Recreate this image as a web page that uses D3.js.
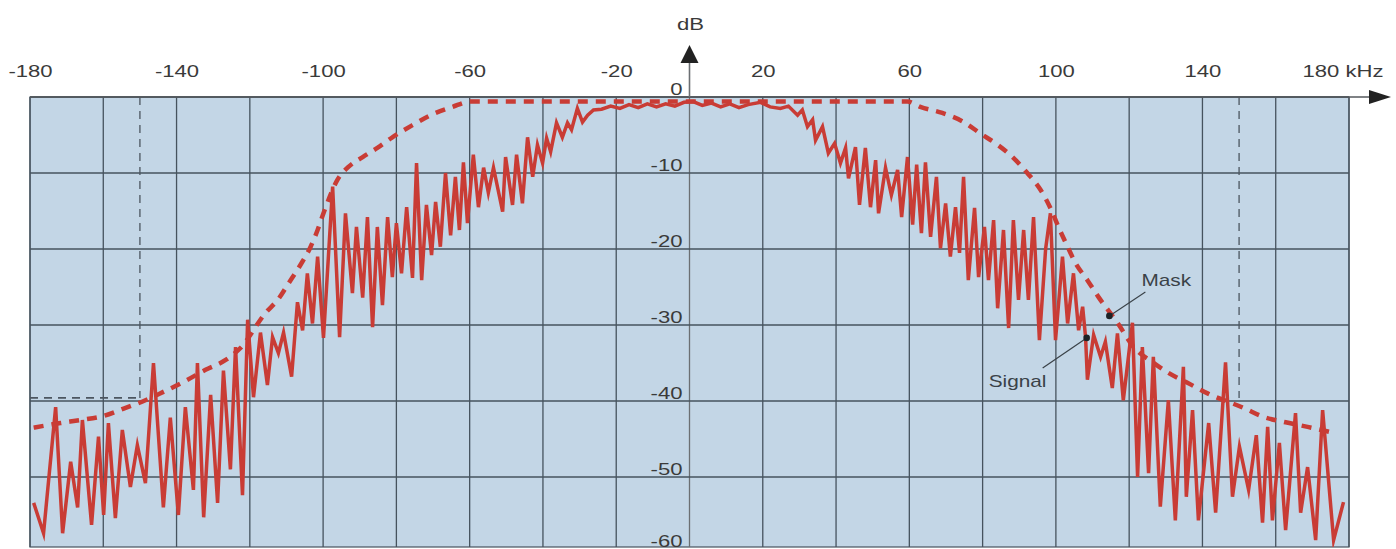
<!DOCTYPE html>
<html>
<head>
<meta charset="utf-8">
<script src="https://cdn.jsdelivr.net/npm/d3@7"></script>
<style>
  body { margin: 0; background: #fff; }
  svg { display: block; font-family: Arial, "Liberation Sans", sans-serif; }
</style>
</head>
<body>
<div id="chart"></div>
<script>
// Axis ticks
const freqLabels = [-180, -140, -100, -60, -20, 20, 60, 100, 140, 180];
const freqGrid = [-180, -160, -140, -120, -100, -80, -60, -40, -20, 0, 20, 40, 60, 80, 100, 120, 140, 160, 180];
const levelTicks = [0, -10, -20, -30, -40, -50, -60];

// Limits of the channel (dashed dark lines)
const limitKHz = [-150, 150];
const limitDb = -39.6;

// Spectrum mask [kHz, dB]
const maskPoints = [
  [-179, -43.5], [-171.7, -42.9], [-166.2, -42.5], [-160.2, -42], [-153.9, -40.9], [-148.5, -39.9],
  [-143.6, -38.8], [-138.1, -37.5], [-132.1, -35.9], [-126.6, -34.6], [-122.5, -33], [-115.7, -28.4],
  [-112.4, -26.7], [-109.4, -24.5], [-106.2, -22.1], [-103.4, -19.7], [-101.5, -17.5], [-99.9, -15.3],
  [-96.1, -10.9], [-93.1, -9.2], [-89.2, -7.9], [-85.2, -6.7], [-81.1, -5.3], [-75.6, -3.7],
  [-70.7, -2.4], [-64.7, -1.3], [-59.8, -0.6], [59.5, -0.6], [63, -1.3], [69, -2.1], [74.5, -3.2],
  [79.4, -4.8], [84.1, -6.3], [88.4, -8], [92.2, -10], [95.8, -12.2], [98.5, -14.6], [100.7, -17.1],
  [103.2, -19.7], [105.3, -21.8], [108.6, -24.1], [111.6, -26.3], [116.8, -29.7], [121.2, -32.9],
  [126.4, -34.9], [130.7, -36.3], [135.9, -37.6], [141.4, -39], [151.2, -40.9], [156.7, -42.1],
  [162.7, -42.8], [168.7, -43.4], [175, -44.1]
];

// Measured signal [kHz, dB]
const signalPoints = [
  [-179.0, -53.4], [-176.3, -57.4], [-173.0, -40.8], [-171.1, -57.4], [-168.9, -48], [-167.0, -54],
  [-165.7, -42.5], [-163.2, -56.3], [-161.3, -44.7], [-159.9, -55], [-158.6, -42.9], [-156.7, -55.4],
  [-154.8, -43.8], [-152.6, -51.3], [-150.7, -45.8], [-148.5, -50.8], [-146.3, -35], [-143.6, -54],
  [-141.7, -42.2], [-139.5, -55], [-137.6, -40.8], [-135.4, -51.7], [-134.3, -35], [-132.6, -55.3],
  [-130.7, -39.2], [-128.8, -53.4], [-127.2, -36], [-125.3, -49], [-123.9, -32.9], [-122.0, -52.4],
  [-120.6, -29.3], [-119.0, -39.5], [-117.1, -31], [-115.2, -37.9], [-113.8, -31.6], [-112.2, -33.7],
  [-110.8, -31], [-108.6, -36.8], [-107.0, -27], [-105.6, -30.7], [-104.3, -23.2], [-102.9, -29.8],
  [-101.5, -21], [-99.9, -31.7], [-97.4, -11.8], [-95.5, -31.6], [-93.9, -15.3], [-92.0, -25.8],
  [-90.9, -17.1], [-89.2, -26.4], [-87.9, -15.8], [-86.5, -30.3], [-85.2, -17.1], [-83.8, -27.4],
  [-82.4, -15.8], [-81.1, -23.7], [-80.0, -16.6], [-78.6, -23.2], [-77.2, -14.5], [-75.6, -23.8],
  [-74.5, -8.7], [-73.1, -24.1], [-71.8, -14.2], [-70.4, -20.8], [-69.3, -13.8], [-68.0, -19.7],
  [-66.6, -10], [-65.2, -18.2], [-63.9, -10.5], [-62.8, -17.5], [-61.7, -8.6], [-60.6, -16.6],
  [-59.0, -7.6], [-57.6, -14.5], [-56.2, -9.3], [-54.9, -12.6], [-53.5, -9.3], [-51.0, -15.1],
  [-50.2, -7.9], [-48.3, -14.2], [-47.2, -7.6], [-45.6, -14], [-44.2, -5.3], [-42.8, -10.5],
  [-41.5, -6.3], [-40.1, -8.7], [-39.0, -5.4], [-37.9, -7.2], [-36.3, -3.4], [-34.7, -5.3],
  [-33.3, -3.4], [-32.2, -4.3], [-30.6, -1.5], [-29.2, -3.3], [-27.8, -2.4], [-26.2, -1.7],
  [-24, -1.6], [-21.5, -1.2], [-19, -1.5], [-16.5, -1.0], [-14, -1.4], [-11.5, -0.9], [-9, -1.3],
  [-6.5, -0.9], [-4, -1.2], [-1.5, -0.7], [1, -0.6], [3.5, -1.1], [6, -0.8], [8.5, -1.3], [11, -0.9],
  [13.5, -1.4], [16, -1.0], [19.4, -0.7], [22, -1.3], [24.8, -1.5], [27, -1.2], [29.5, -2.4],
  [30.8, -1.7], [32.2, -3.9], [33.6, -3], [34.4, -5.7], [36.3, -3.9], [37.9, -7.4], [39.6, -6.1],
  [41.2, -8.7], [42.6, -6.7], [43.4, -10.7], [45.3, -6.6], [46.4, -14.2], [48.0, -6.7], [49.4, -14.5],
  [50.8, -8.3], [51.6, -15.3], [53.5, -9.3], [55.1, -12.9], [56.8, -9.6], [57.9, -15.8], [59.5, -7.9],
  [60.9, -16.8], [62.0, -8.9], [63.3, -17.9], [64.4, -8.6], [65.8, -18.4], [67.4, -10.5], [68.5, -19.9],
  [69.9, -14], [71.2, -21], [72.6, -14.5], [73.7, -20.5], [74.8, -10.5], [76.1, -24.1], [77.8, -14.6],
  [78.9, -23.7], [80.5, -17.1], [81.6, -24.1], [83.0, -16.2], [84.1, -27.8], [85.7, -17.5], [87.1, -30.4],
  [88.4, -16.2], [89.8, -26.7], [91.2, -17.5], [92.5, -26.7], [93.9, -15.8], [95.5, -32], [97.2, -20],
  [98.5, -15.3], [99.9, -32], [101.8, -21], [103.2, -29.8], [104.8, -23.2], [106.2, -30.7], [107.3, -27.6],
  [108.1, -31.6], [108.6, -37.2], [110.3, -31.3], [112.2, -34.2], [113.5, -32.2], [115.4, -38.3],
  [116.8, -31.1], [118.4, -39.9], [120.9, -29.7], [122.3, -50], [123.6, -32.9], [125.3, -49.5],
  [126.6, -34.2], [128.5, -53.9], [130.7, -39.9], [132.6, -55.7], [134.8, -35.5], [135.6, -52.6],
  [137.3, -41.2], [138.9, -55.7], [141.7, -42.9], [143.6, -54.7], [146.3, -34.9], [148.2, -52.6],
  [150.1, -46], [152.6, -51.7], [154.7, -44.5], [156.4, -56], [157.8, -43.4], [159.1, -55.7],
  [161.0, -45.5], [162.7, -57], [165.4, -41.6], [166.8, -54.7], [168.7, -48.7], [170.9, -58.3],
  [172.8, -41.2], [175.8, -58.3], [178.5, -53.3]
];

// Callout points
const maskCallout = { label: "Mask", kHz: 114.6, db: -28.8 };
const signalCallout = { label: "Signal", kHz: 108.4, db: -31.7 };

class SpectrumChart {
  constructor(_config) {
    this.config = {
      parentElement: _config.parentElement,
      containerWidth: _config.containerWidth || 1396,
      containerHeight: _config.containerHeight || 549,
      margin: _config.margin || { top: 97, left: 30 },
      plotWidth: 1319,
      fullHeight: 456, // 0 .. -60 dB
      visibleHeight: 450, // bottom of the picture cuts the last row
      stretch: 1.3 // lettering is drawn wide
    };
    this.initVis();
  }

  initVis() {
    let vis = this;
    const c = vis.config;

    vis.svg = d3.select(c.parentElement).append("svg")
      .attr("width", c.containerWidth)
      .attr("height", c.containerHeight);

    vis.g = vis.svg.append("g")
      .attr("transform", `translate(${c.margin.left}, ${c.margin.top})`);

    vis.x = d3.scaleLinear().domain([-180, 180]).range([0, c.plotWidth]);
    vis.y = d3.scaleLinear().domain([-60, 0]).range([c.fullHeight, 0]);

    vis.svg.append("defs").append("clipPath").attr("id", "plot-clip")
      .append("rect")
      .attr("width", c.plotWidth)
      .attr("height", c.visibleHeight);

    vis.renderVis();
  }

  renderVis() {
    let vis = this;
    const c = vis.config;
    const x = vis.x, y = vis.y;
    const gridColor = "#46535e";
    const red = "#c93c35";

    // Plot background
    vis.g.append("rect")
      .attr("width", c.plotWidth)
      .attr("height", c.visibleHeight)
      .attr("fill", "#c3d6e6")
      .attr("stroke", gridColor)
      .attr("stroke-width", 1.2);

    // Grid
    vis.g.selectAll(".vgrid").data(freqGrid).enter().append("line")
      .attr("class", "vgrid")
      .attr("x1", d => x(d)).attr("x2", d => x(d))
      .attr("y1", 0).attr("y2", c.visibleHeight)
      .attr("stroke", d => d === 0 ? "#6b6f73" : gridColor)
      .attr("stroke-width", 1.3);

    vis.g.selectAll(".hgrid").data(levelTicks).enter().append("line")
      .attr("class", "hgrid")
      .attr("x1", 0).attr("x2", c.plotWidth)
      .attr("y1", d => y(d)).attr("y2", d => y(d))
      .attr("stroke", gridColor)
      .attr("stroke-width", 1.4);

    // Channel limits
    const limits = vis.g.append("g")
      .attr("stroke", "#4c5660")
      .attr("stroke-width", 1.3)
      .attr("stroke-dasharray", "8,6")
      .attr("fill", "none");
    limits.selectAll("line.lim").data(limitKHz).enter().append("line")
      .attr("class", "lim")
      .attr("x1", d => x(d)).attr("x2", d => x(d))
      .attr("y1", 0).attr("y2", y(limitDb));
    limits.append("line")
      .attr("x1", x(-180)).attr("x2", x(limitKHz[0]))
      .attr("y1", y(limitDb)).attr("y2", y(limitDb))
      .attr("stroke-width", 1.8);

    // Y labels (plain hyphen as in the original print)
    const yAxis = d3.axisLeft(y).tickValues(levelTicks).tickSize(0).tickPadding(0)
      .tickFormat(d => String(d));
    const yG = vis.g.append("g")
      .attr("transform", `translate(${x(0) - 7}, 0)`)
      .call(yAxis);
    yG.select(".domain").remove();
    yG.selectAll("text")
      .attr("dy", d => d === -60 ? -7 : -3)
      .attr("fill", "#3a3a3a")
      .style("font-size", "17px")
      .attr("transform", `scale(${c.stretch},1)`);

    // Signal + mask
    const plot = vis.g.append("g").attr("clip-path", "url(#plot-clip)");

    plot.append("path")
      .datum(maskPoints)
      .attr("d", d3.line().x(d => x(d[0])).y(d => y(d[1])).curve(d3.curveMonotoneX))
      .attr("fill", "none")
      .attr("stroke", red)
      .attr("stroke-width", 4.5)
      .attr("stroke-dasharray", "10,8");

    plot.append("path")
      .datum(signalPoints)
      .attr("d", d3.line().x(d => x(d[0])).y(d => y(d[1])))
      .attr("fill", "none")
      .attr("stroke", red)
      .attr("stroke-width", 3.5)
      .attr("stroke-linejoin", "miter")
      .attr("stroke-miterlimit", 6);

    // Top (frequency) axis with arrow
    vis.g.append("line")
      .attr("x1", 0).attr("x2", c.plotWidth + 25)
      .attr("y1", 0).attr("y2", 0)
      .attr("stroke", "#55595d").attr("stroke-width", 1.6);
    vis.g.append("path")
      .attr("d", `M${c.plotWidth + 42},0 L${c.plotWidth + 20},-7 L${c.plotWidth + 20},7 Z`)
      .attr("fill", "#222");

    // Vertical (dB) axis with arrow
    vis.g.append("line")
      .attr("x1", x(0)).attr("x2", x(0))
      .attr("y1", 0).attr("y2", -38)
      .attr("stroke", "#6b6f73").attr("stroke-width", 1.6);
    vis.g.append("path")
      .attr("d", `M${x(0)},-52 L${x(0) - 9},-34 L${x(0) + 9},-34 Z`)
      .attr("fill", "#222");

    vis.g.append("text")
      .attr("transform", `translate(${x(0) + 1}, -67) scale(${c.stretch},1)`)
      .attr("text-anchor", "middle")
      .attr("fill", "#3a3a3a")
      .style("font-size", "17px")
      .text("dB");

    // X labels
    const xAxis = d3.axisTop(x).tickValues(freqLabels).tickSize(0).tickPadding(0)
      .tickFormat(d => d === 180 ? "180 kHz" : String(d));
    const xG = vis.g.append("g")
      .attr("transform", "translate(0, -20)")
      .call(xAxis);
    xG.select(".domain").remove();
    xG.selectAll("text")
      .attr("dy", 0)
      .attr("y", 0)
      .attr("x", d => d === 180 ? -5 : 0)
      .attr("fill", "#3a3a3a")
      .style("font-size", "17px")
      .attr("transform", `scale(${c.stretch},1)`);

    // Callouts
    vis.addCallout(maskCallout, 36, -24, 32, -30, "start");
    vis.addCallout(signalCallout, -44, 30, -98, 49, "start");
  }

  addCallout(item, lx, ly, tx, ty, anchor) {
    let vis = this;
    const px = vis.x(item.kHz), py = vis.y(item.db);
    const g = vis.g.append("g").attr("class", "callout");
    g.append("line")
      .attr("x1", px).attr("y1", py)
      .attr("x2", px + lx).attr("y2", py + ly)
      .attr("stroke", "#3a4248").attr("stroke-width", 1.2);
    g.append("circle")
      .attr("cx", px).attr("cy", py).attr("r", 3.3)
      .attr("fill", "#1d2226");
    g.append("text")
      .attr("transform", `translate(${px + tx}, ${py + ty}) scale(${vis.config.stretch},1)`)
      .attr("text-anchor", anchor)
      .attr("fill", "#3a4248")
      .style("font-size", "16px")
      .text(item.label);
  }
}

new SpectrumChart({ parentElement: "#chart" });
</script>
</body>
</html>
